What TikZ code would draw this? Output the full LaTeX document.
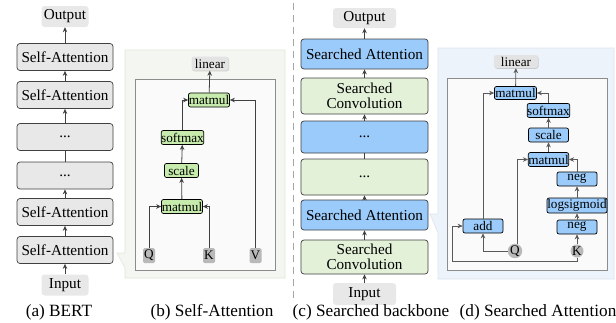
\documentclass[tikz,border=0pt]{standalone}
\usepackage{fontspec}
\setmainfont{Liberation Serif}
\usetikzlibrary{arrows.meta,shadows}
\definecolor{blu}{HTML}{9ACBFA}
\definecolor{opgreen}{HTML}{C6EBAC}
\definecolor{convgreen}{HTML}{E4F1D9}
\definecolor{panelb}{HTML}{F4F7F1}
\definecolor{panelbd}{HTML}{E0E6DA}
\definecolor{paneld}{HTML}{EDF3FA}
\definecolor{paneldd}{HTML}{DAE3EE}
\newcommand\fbig{\fontsize{15.2}{17}\selectfont}
\newcommand\fsmall{\fontsize{13.2}{14}\selectfont}
\newcommand\fcap{\fontsize{17.2}{19}\selectfont}
\begin{document}
\begin{tikzpicture}[x=1pt,y=-1pt,
  bertbox/.style={draw=black!75, fill=gray!18, rounded corners=3pt, line width=0.7pt, minimum width=96pt, minimum height=27pt, inner sep=0pt, font=\fbig},
  iobox/.style={fill=gray!18, rounded corners=3pt, minimum width=47pt, minimum height=21pt, inner sep=0pt, font=\fbig},
  cbox/.style={draw=black!75, rounded corners=3pt, line width=0.7pt, minimum width=127pt, inner sep=0pt, font=\fbig, align=center},
  attbox/.style={cbox, fill=blu, minimum height=30pt},
  convbox/.style={cbox, fill=convgreen, minimum height=35pt},
  arr/.style={-{Stealth[length=5pt,width=4.5pt]}, draw=black!75, line width=0.8pt},
  plain/.style={draw=black!75, line width=0.8pt},
  opnode/.style={draw=black, line width=0.7pt, rounded corners=2pt, inner sep=0pt, font=\fsmall},
  gop/.style={opnode, fill=opgreen},
  bop/.style={opnode, fill=blu},
  linnode/.style={fill=gray!22, rounded corners=2.5pt, inner sep=0pt, font=\fsmall, drop shadow={shadow xshift=0.6pt, shadow yshift=-0.8pt, opacity=0.35}},
  qk/.style={fill=gray!55, rounded corners=1.5pt, inner sep=0pt, minimum width=12pt, minimum height=15pt, font=\fsmall},
  qkc/.style={circle, fill=gray!55, inner sep=0pt, minimum size=13pt, font=\fsmall},
  innerbox/.style={fill=white!98!black, draw=black!45, line width=0.7pt, drop shadow={shadow xshift=1pt, shadow yshift=-1.2pt, opacity=0.45}},
  capt/.style={font=\fcap, inner sep=0pt},
  darr/.style={-{Stealth[length=5pt,width=4.5pt]}, draw=black!65, line width=0.8pt}
]
\useasboundingbox (0,0) rectangle (616,322);

% ---------- separator
\draw[gray!70, line width=0.8pt, dash pattern=on 7pt off 5pt] (293,3) -- (293,300);

% ---------- (a) BERT
\node[iobox] (aout) at (65,16.5) {Output};
\node[bertbox] (a1) at (65,57) {Self-Attention};
\node[bertbox] (a2) at (65,95) {Self-Attention};
\node[bertbox] (a3) at (65,137) {...};
\node[bertbox] (a4) at (65,175.5) {...};
\node[bertbox] (a5) at (65,212) {Self-Attention};
\node[bertbox] (a6) at (65,250) {Self-Attention};
\node[iobox] (ain) at (65,285) {Input};
\draw[arr] (ain) -- (a6);
\draw[arr] (a6) -- (a5);
\draw[arr] (a5) -- (a4);
\draw[plain] (a4) -- (a3);
\draw[arr] (a3) -- (a2);
\draw[arr] (a2) -- (a1);
\draw[arr] (a1) -- (aout);
\node[capt] (capa) at (59,312) {(a) BERT};

% ---------- (b) Self-Attention
\draw[fill=panelb, draw=panelbd, line width=0.6pt] (125,50) -- (285,50) -- (285,278) -- (125,278) -- (125,268) -- (117,253) -- (125,253) -- cycle;
\path[innerbox] (135,79) rectangle (275,270);
\node[linnode, minimum width=37pt, minimum height=14pt] (blin) at (210,63.5) {linear};
\node[gop, minimum width=41pt, minimum height=14pt] (bmm1) at (209,100) {matmul};
\node[gop, minimum width=42pt, minimum height=14pt] (bsm) at (182.5,137.5) {softmax};
\node[gop, minimum width=34pt, minimum height=14pt] (bsc) at (181.5,170.5) {scale};
\node[gop, minimum width=41pt, minimum height=14pt] (bmm2) at (182,206.5) {matmul};
\node[qk] (bq) at (149,255.5) {Q};
\node[qk] (bk) at (209,255.5) {K};
\node[qk] (bv) at (255.5,255.5) {V};
\draw[arr] (bq.north) |- (bmm2.west);
\draw[arr] (bk.north) |- (bmm2.east);
\draw[arr] (bmm2) -- (bsc);
\draw[arr] (bsc) -- (bsm);
\draw[arr] (bsm.north) |- (bmm1.west);
\draw[arr] (bv.north) |- (bmm1.east);
\draw[arr] (bmm1) -- (blin);
\node[capt] (capb) at (212,312) {(b) Self-Attention};

% ---------- (c) Searched backbone
\node[iobox, minimum width=63pt, minimum height=20pt] (cout) at (364.5,18) {Output};
\node[attbox] (c1) at (364.5,54) {Searched Attention};
\node[convbox, minimum height=36pt] (c2) at (364.5,96) {Searched\\[-2pt]Convolution};
\node[attbox, minimum height=32pt] (c3) at (364.5,137) {...};
\node[convbox, minimum height=36pt] (c4) at (364.5,177) {...};
\node[attbox] (c5) at (364.5,215) {Searched Attention};
\node[convbox, minimum height=34pt] (c6) at (364.5,257) {Searched\\[-2pt]Convolution};
\node[iobox, minimum width=63pt, minimum height=22pt] (cin) at (364.5,294) {Input};
\draw[arr] (cin) -- (c6);
\draw[arr] (c6) -- (c5);
\draw[arr] (c5) -- (c4);
\draw[plain] (c4) -- (c3);
\draw[arr] (c3) -- (c2);
\draw[arr] (c2) -- (c1);
\draw[arr] (c1) -- (cout);
\node[capt] (capc) at (371,312) {(c) Searched backbone};

% ---------- (d) Searched Attention
\draw[fill=paneld, draw=paneldd, line width=0.6pt] (438,48) -- (614,48) -- (614,279) -- (438,279) -- (438,233) -- (430,214) -- (438,214) -- cycle;
\path[innerbox] (447,78) rectangle (607,270);
\node[linnode, minimum width=44pt, minimum height=13pt] (dlin) at (516,61.5) {linear};
\node[bop, minimum width=42pt, minimum height=13pt] (dmm1) at (515.5,93) {matmul};
\node[bop, minimum width=42pt, minimum height=14pt] (dsm) at (548.5,110.5) {softmax};
\node[bop, minimum width=40pt, minimum height=14pt] (dsc) at (548.5,135) {scale};
\node[bop, minimum width=40pt, minimum height=14pt] (dmm2) at (548.5,159.5) {matmul};
\node[bop, minimum width=40pt, minimum height=14pt] (dneg1) at (577,179) {neg};
\node[bop, minimum width=60pt, minimum height=15pt] (dlog) at (577,205.5) {logsigmoid};
\node[bop, minimum width=40pt, minimum height=14pt] (dneg2) at (577,227) {neg};
\node[bop, minimum width=40pt, minimum height=14pt] (dadd) at (483,226) {add};
\node[qkc] (dq) at (515,251) {Q};
\node[qkc] (dk) at (577,251) {K};
\coordinate (kcorner) at (452,261);
\draw[darr] (dk) -- (dneg2);
\draw[darr] (dneg2) -- (dlog);
\draw[darr] (dlog) -- (dneg1);
\draw[darr] (dneg1.north) |- (dmm2.east);
\draw[darr] ([xshift=2pt]dq.north) |- (dmm2.west);
\draw[darr] (dq.west) -| (dadd.south);
\draw[darr] (dk.south) |- (kcorner) |- (dadd.west);
\draw[darr] (dadd.north) |- (dmm1.west);
\draw[darr] (dmm2) -- (dsc);
\draw[darr] (dsc) -- (dsm);
\draw[darr] (dsm.north) |- (dmm1.east);
\draw[darr] (dmm1) -- (dlin);
\node[capt] (capd) at (538,312) {(d) Searched Attention};
\end{tikzpicture}
\end{document}
